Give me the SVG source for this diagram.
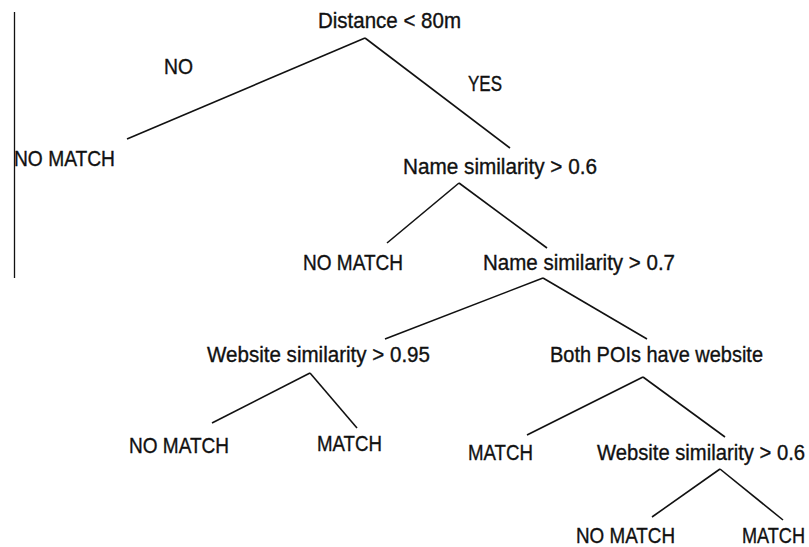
<svg xmlns="http://www.w3.org/2000/svg" width="809" height="547" viewBox="0 0 809 547">
<style>
text{font-family:"Liberation Sans",Arial,sans-serif;font-size:21.5px;fill:#111;stroke:#111;stroke-width:0.35}
.e{text-anchor:end}
.c line{stroke:#111;stroke-width:1.6;stroke-linecap:butt}
</style>
<rect width="809" height="547" fill="#fff"/>
<line x1="14.5" y1="12" x2="14.5" y2="278" stroke="#111" stroke-width="1.3"/>
<g class="c" id="connectors">
<line x1="365" y1="38" x2="127" y2="139"/>
<line x1="365" y1="38" x2="510" y2="148"/>
<line x1="459" y1="183" x2="387" y2="243"/>
<line x1="459" y1="183" x2="547" y2="248"/>
<line x1="543" y1="278" x2="385" y2="339"/>
<line x1="543" y1="278" x2="647" y2="339"/>
<line x1="310" y1="373" x2="212" y2="423"/>
<line x1="310" y1="373" x2="357" y2="428"/>
<line x1="643" y1="377" x2="527" y2="435"/>
<line x1="643" y1="377" x2="725" y2="437"/>
<line x1="720" y1="469" x2="652" y2="517"/>
<line x1="720" y1="469" x2="783" y2="520"/>
</g>
<g id="n-root"><text x="318" y="28" textLength="143" lengthAdjust="spacingAndGlyphs">Distance &lt; 80m</text></g>
<g id="l-no"><text x="164" y="74" textLength="29" lengthAdjust="spacingAndGlyphs">NO</text></g>
<g id="l-yes"><text x="468" y="91" textLength="34" lengthAdjust="spacingAndGlyphs">YES</text></g>
<g id="n-nomatch1"><text x="14" y="166" textLength="101" lengthAdjust="spacingAndGlyphs">NO MATCH</text></g>
<g id="n-name06"><text x="403" y="174" textLength="194" lengthAdjust="spacingAndGlyphs">Name similarity &gt; 0.6</text></g>
<g id="n-nomatch2"><text x="303" y="270" textLength="100" lengthAdjust="spacingAndGlyphs">NO MATCH</text></g>
<g id="n-name07"><text x="483" y="270" textLength="192" lengthAdjust="spacingAndGlyphs">Name similarity &gt; 0.7</text></g>
<g id="n-web095"><text x="207" y="362" textLength="223" lengthAdjust="spacingAndGlyphs">Website similarity &gt; 0.95</text></g>
<g id="n-both"><text x="550" y="362" textLength="213" lengthAdjust="spacingAndGlyphs">Both POIs have website</text></g>
<g id="n-nomatch3"><text x="129" y="453" textLength="100" lengthAdjust="spacingAndGlyphs">NO MATCH</text></g>
<g id="n-match1"><text x="317" y="451" textLength="65" lengthAdjust="spacingAndGlyphs">MATCH</text></g>
<g id="n-match2"><text x="468" y="460" textLength="65" lengthAdjust="spacingAndGlyphs">MATCH</text></g>
<g id="n-web06"><text class="e" x="805" y="460" textLength="208" lengthAdjust="spacingAndGlyphs">Website similarity &gt; 0.6</text></g>
<g id="n-nomatch4"><text x="576" y="543" textLength="99" lengthAdjust="spacingAndGlyphs">NO MATCH</text></g>
<g id="n-match3"><text class="e" x="805" y="543" textLength="63" lengthAdjust="spacingAndGlyphs">MATCH</text></g>
</svg>
